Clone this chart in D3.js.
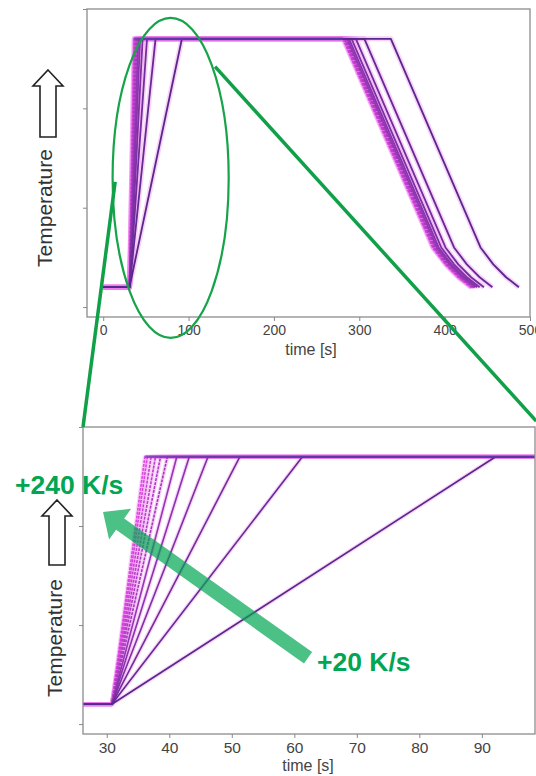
<!DOCTYPE html>
<html>
<head>
<meta charset="utf-8">
<script src="https://cdn.jsdelivr.net/npm/d3@7"></script>
<style>
body{margin:0;background:#fff}
svg{display:block}
text{font-family:"Liberation Sans",Arial,sans-serif}
</style>
</head>
<body>
<div id="chart"></div>
<script>
// heating rates in K/s, fastest first
var rates = [240,220,200,180,160,140,120,100,80,60,40,20];
var rampStart = 30.8;                 // s, end of the low plateau
var rampEnd = [36.1,36.5,37.1,37.8,38.6,39.7,41.2,43.2,46.2,51.3,61.3,92.2];
var coolStart = [281,281.5,282,283,284,285,286,288,291,296,306,337];
// cooling profile, seconds after coolStart / temperature
var coolDt = [105,120,135,150];
var coolT = [300,215,150,100];
var lowT = 100, highT = 1350;

var topTicksX = [0,100,200,300,400,500];
var botTicksX = [30,40,50,60,70,80,90];
var ticksY = [0,500,1000,1500];

var svgSize = {width:536, height:776};

var green = '#00a651';
var lineColor = d3.interpolateRgb('#e048e4','#57288c');

var svg = d3.select('#chart').append('svg')
    .attr('width', svgSize.width)
    .attr('height', svgSize.height);

function curvePoints(i) {
    var pts = [[0,lowT],[rampStart,lowT],[rampEnd[i],highT],[coolStart[i],highT]];
    for (var j = 0; j < coolDt.length; j++) {
        pts.push([coolStart[i] + coolDt[j], coolT[j]]);
    }
    return pts;
}

function drawPanel(cfg) {
    var x = d3.scaleLinear().domain(cfg.xDom).range(cfg.xRange);
    var y = d3.scaleLinear().domain([-50,1500]).range(cfg.yRange);
    var g = svg.append('g');

    g.append('clipPath').attr('id', cfg.id + 'clip')
        .append('rect')
        .attr('x', cfg.xRange[0]).attr('y', cfg.yRange[1])
        .attr('width', cfg.xRange[1] - cfg.xRange[0])
        .attr('height', cfg.yRange[0] - cfg.yRange[1]);

    var line = d3.line()
        .x(function(d) { return x(d[0]); })
        .y(function(d) { return y(d[1]); });

    var lines = g.append('g').attr('clip-path', 'url(#' + cfg.id + 'clip)');
    // pink halo under every run
    lines.selectAll('path.halo')
        .data(rates)
        .enter().append('path')
        .attr('class','halo')
        .attr('fill','none')
        .attr('stroke','#ee7cee')
        .attr('stroke-opacity',0.35)
        .attr('stroke-width',cfg.halo)
        .attr('stroke-linejoin','round')
        .attr('d', function(d,i) { return line(curvePoints(i)); });
    lines.selectAll('path.core')
        .data(rates)
        .enter().append('path')
        .attr('class','core')
        .attr('fill','none')
        .attr('stroke', function(d,i) { return lineColor(i / (rates.length - 1)); })
        .attr('stroke-width',cfg.core)
        .attr('stroke-dasharray', function(d,i) { return i < 6 ? '3,1' : null; })
        .attr('stroke-linejoin','round')
        .attr('d', function(d,i) { return line(curvePoints(i)); });
    // noisy plateau reads as a thicker blue-purple band
    lines.append('path')
        .datum([[rampEnd[0],highT],[coolStart[0],highT]])
        .attr('fill','none')
        .attr('stroke','#5a3fb0')
        .attr('stroke-opacity',0.6)
        .attr('stroke-width',cfg.core + 1.2)
        .attr('d', line);

    // frame
    g.append('rect')
        .attr('x', cfg.xRange[0]).attr('y', cfg.yRange[1])
        .attr('width', cfg.xRange[1] - cfg.xRange[0])
        .attr('height', cfg.yRange[0] - cfg.yRange[1])
        .attr('fill','none')
        .attr('stroke','#8c8c8c')
        .attr('stroke-width',1.3);

    var ax = g.append('g')
        .attr('transform','translate(0,' + cfg.yRange[0] + ')')
        .call(d3.axisBottom(x).tickValues(cfg.ticksX).tickSize(4).tickPadding(4));
    ax.select('.domain').remove();
    ax.selectAll('line').attr('stroke','#888');
    ax.selectAll('text').attr('fill','#444').style('font-size', cfg.font + 'px')
        .style('font-family','"Liberation Sans",Arial,sans-serif');

    var ay = g.append('g')
        .attr('transform','translate(' + cfg.xRange[0] + ',0)')
        .call(d3.axisLeft(y).tickValues(ticksY).tickSize(4).tickFormat(''));
    ay.select('.domain').remove();
    ay.selectAll('line').attr('stroke','#888');

    g.append('text')
        .attr('x', cfg.titleX).attr('y', cfg.titleY)
        .attr('text-anchor','middle')
        .attr('fill','#444')
        .style('font-size', '16px')
        .text('time [s]');

    // y label with hollow arrow
    g.append('text')
        .attr('transform','translate(' + cfg.labX + ',' + cfg.labY + ') rotate(-90)')
        .attr('text-anchor','middle')
        .attr('fill','#333')
        .style('font-size','21px')
        .text('Temperature');

    var a = cfg.arrow; // cx, top, bottom
    var pts = [[a.cx, a.top],[a.cx + 15, a.top + 16],[a.cx + 8, a.top + 16],[a.cx + 8, a.bottom],
               [a.cx - 8, a.bottom],[a.cx - 8, a.top + 16],[a.cx - 15, a.top + 16]];
    g.append('path')
        .attr('d', 'M' + pts.join('L') + 'Z')
        .attr('fill','#fff')
        .attr('stroke','#222')
        .attr('stroke-width',1.6)
        .attr('stroke-linejoin','miter');

    return {x:x, y:y};
}

var topP = drawPanel({id:'top', xDom:[-19,500], xRange:[87,530], yRange:[317,9],
    ticksX:topTicksX, font:14, halo:5, core:1.8,
    titleX:311, titleY:355, labX:52, labY:208, arrow:{cx:48, top:70, bottom:137}});
var botP = drawPanel({id:'bot', xDom:[26.2,98.5], xRange:[83,535], yRange:[734,427],
    ticksX:botTicksX, font:15.5, halo:4, core:1.6,
    titleX:308, titleY:771, labX:62, labY:638, arrow:{cx:57, top:500, bottom:565}});

// green annotations
var ann = svg.append('g');
ann.append('ellipse')
    .attr('cx', topP.x(79)).attr('cy', topP.y(650))
    .attr('rx', topP.x(79) - topP.x(11)).attr('ry', topP.y(-155) - topP.y(650))
    .attr('fill','none')
    .attr('stroke','#17a34a')
    .attr('stroke-width',2.2);

ann.append('line')
    .attr('x1', topP.x(14)).attr('y1', topP.y(630))
    .attr('x2', botP.x(26.2)).attr('y2', botP.y(1500))
    .attr('stroke','#10a048').attr('stroke-width',3.5);
ann.append('line')
    .attr('x1', topP.x(131)).attr('y1', topP.y(1210))
    .attr('x2', botP.x(98.7)).attr('y2', botP.y(1530))
    .attr('stroke','#10a048').attr('stroke-width',3.5);

// big translucent arrow from +20 K/s toward +240 K/s
var tail = [botP.x(62.2), botP.y(335)], tip = [botP.x(29.4), botP.y(1071)];
var dx = tip[0] - tail[0], dy = tip[1] - tail[1], len = Math.sqrt(dx*dx + dy*dy);
var ux = dx / len, uy = dy / len, px = -uy, py = ux;
var headLen = 21, headW = 19, shaftW = 7;
var bx = tip[0] - ux * headLen, by = tip[1] - uy * headLen;
var arrowPts = [
    [tail[0] + px*shaftW, tail[1] + py*shaftW],
    [bx + px*shaftW, by + py*shaftW],
    [bx + px*headW, by + py*headW],
    tip,
    [bx - px*headW, by - py*headW],
    [bx - px*shaftW, by - py*shaftW],
    [tail[0] - px*shaftW, tail[1] - py*shaftW]
];
ann.append('path')
    .attr('d', 'M' + arrowPts.join('L') + 'Z')
    .attr('fill', green)
    .attr('fill-opacity',0.7);

ann.append('text')
    .attr('x',15).attr('y',494)
    .attr('fill',green)
    .style('font-size','26.5px').style('font-weight','bold')
    .text('+240 K/s');
ann.append('text')
    .attr('x',317).attr('y',671)
    .attr('fill',green)
    .style('font-size','26.5px').style('font-weight','bold')
    .text('+20 K/s');
</script>
</body>
</html>
